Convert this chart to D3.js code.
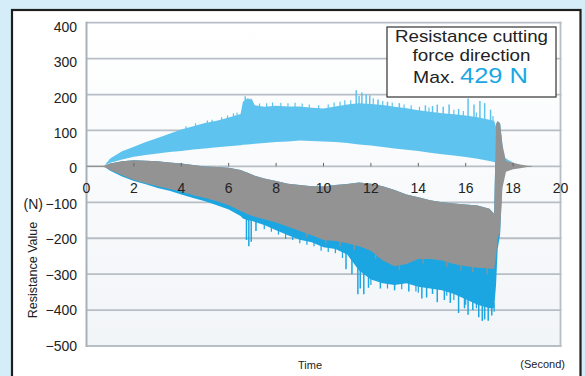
<!DOCTYPE html>
<html><head><meta charset="utf-8">
<script src="https://cdn.jsdelivr.net/npm/d3@7"></script>
<style>body{margin:0;background:#d4edf9}svg{display:block;font-family:"Liberation Sans",Arial,sans-serif}</style>
</head><body><svg id="c" width="585" height="376"></svg>
<script>
// ---- data ----
const xTicks = [0,2,4,6,8,10,12,14,16,18,20];
const yTicks = [400,300,200,100,0,-100,-200,-300,-400,-500];
const T = [0,0.7,0.8,1.0,1.5, 2,2.5,3,3.5,4, 4.5,5,5.5,6,6.5, 6.6,6.8,7,7.1,7.5, 8,8.5,9,9.5,10, 10.5,11,11.5,12,12.5, 13,13.5,14,14.5,15, 15.5,16,16.5,17,17.2, 17.28,17.35,17.45,17.55,17.7, 18.0,18.3,18.6,18.8];
const blueUpHi = [null,null,6,22,42, 55,68,79,91,103, 112,121,127,136,146, 180,190,184,170,166, 169,167,167,163,161, 167,172,176,174,171, 166,162,156,152,148, 145,142,137,130,127, 110,20,22,25,22, 10,null,null,null];
const blueUpLo = [null,null,4,10,19, 27,32,36,40,43, 47,50,53,56,59, 60,61,62,63,65, 68,69,72,71,69, 68,65,61,58,54, 50,46,43,38,34, 30,26,21,15,12, 10,8,8,8,7, 5,null,null,null];
const grayHi = [2,2,3,8,14, 17,16,14,11,8, 4,0,-2,-4,-10, -13,-18,-23,-26,-34, -41,-48,-52,-55,-56, -52,-49,-45,-48,-55, -66,-78,-86,-94,-100, -103,-106,-109,-118,-132, 118,126,120,60,15, 10,5,2,1];
const grayLo = [-2,-2,-3,-10,-25, -38,-47,-55,-63,-70, -80,-88,-97,-108,-124, -127,-133,-138,-140,-147, -156,-168,-180,-192,-205, -208,-214,-222,-235,-262, -278,-272,-258,-258,-262, -272,-278,-282,-284,-286, -250,-200,-182,-60,-15, -8,-5,-2,-1];
const blueDnLo = [null,null,-3,-12,-28, -41,-50,-60,-68,-78, -88,-97,-108,-120,-138, -145,-150,-152,-155,-163, -178,-192,-204,-211,-225, -230,-245,-290,-315,-325, -330,-325,-335,-340,-345, -355,-370,-385,-395,-395, -330,-230,-190,-40,null, null,null,null,null];
// spikes: [time, from, to]
const blueSpikesUp = [[6.7,140,195],[6.95,150,188],[11.38,150,212],[11.5,150,196],[11.62,150,206],[11.8,150,200],[11.95,150,198],[12.3,150,186],[12.7,150,180],[13.2,150,176],[14.3,140,170],[14.6,140,168],[14.8,140,172],[15.05,140,166],[15.3,140,172],[15.7,130,160],[16.1,120,189],[16.35,120,172],[16.6,120,182],[16.8,120,176],[17.05,110,158]];
const blueJagUp = [[4.2,100,112],[4.6,100,120],[5.1,110,128],[5.3,110,130],[5.7,120,137],[5.95,120,142],[6.2,130,148],[6.35,130,150],[7.3,150,175],[7.6,150,176],[7.85,150,178],[8.2,150,177],[8.5,150,176],[8.8,150,177],[9.1,150,175],[9.4,150,172],[9.8,150,170],[10.2,150,172],[10.45,150,178],[10.7,150,180],[10.9,150,184],[11.15,150,184],[12.1,150,190],[12.5,150,182],[12.9,150,178],[13.4,150,172],[13.7,150,170],[14.05,140,166],[14.45,140,164],[15.5,130,158],[15.9,130,154],[16.45,120,150],[17.15,110,140]];
const blueSpikesDn = [[6.75,-140,-205],[6.85,-140,-222],[6.95,-140,-210],[7.15,-145,-180],[10.95,-230,-286],[11.2,-240,-300],[11.45,-270,-356],[11.55,-270,-340],[11.7,-280,-356],[11.9,-290,-338],[12.4,-300,-340],[13.0,-310,-345],[13.6,-310,-348],[14.15,-320,-368],[14.35,-320,-365],[14.6,-320,-355],[14.8,-330,-378],[15.1,-330,-372],[15.35,-340,-380],[15.7,-350,-408],[15.95,-350,-395],[16.1,-360,-413],[16.3,-360,-400],[16.55,-370,-420],[16.7,-370,-430],[16.8,-370,-426],[16.95,-380,-430],[17.1,-380,-415]];
const blueJagDn = [[7.5,-150,-175],[7.8,-160,-182],[8.1,-170,-190],[8.4,-180,-202],[8.7,-190,-205],[9.0,-190,-214],[9.3,-200,-218],[9.6,-200,-222],[9.9,-210,-235],[10.2,-220,-238],[10.5,-220,-242],[10.8,-230,-255],[12.0,-300,-330],[12.7,-310,-340],[13.3,-310,-342],[13.9,-320,-348],[14.0,-320,-352],[15.2,-330,-360],[15.5,-340,-372],[16.0,-350,-385],[16.45,-370,-395],[17.2,-380,-405]];
const grayJagDn = [[9.3,-180,-198],[10.1,-200,-215],[10.7,-205,-222],[11.3,-215,-232],[12.2,-240,-258],[13.2,-270,-288],[14.2,-255,-270],[15.2,-262,-280],[15.8,-272,-290],[16.3,-278,-295],[16.9,-282,-300]];
const legendLines = ["Resistance cutting","force direction"];
const legendMaxLabel = "Max.";
const legendMaxValue = "429 N";

// ---- drawing ----
const svg = d3.select("#c");
const x = d3.scaleLinear().domain([0,20]).range([86.5,560.5]);
const y = d3.scaleLinear().domain([-500,400]).range([346,22.7]);
const yLab = d3.scaleLinear().domain([-500,400]).range([350.7,31.7]);

svg.append("rect").attr("width",585).attr("height",376).attr("fill","#d4edf9");
svg.append("rect").attr("x",12).attr("y",10).attr("width",568.5).attr("height",380)
  .attr("fill","#ffffff").attr("stroke","#1e1e1e").attr("stroke-width",2.2);

const defs = svg.append("defs");
const g = defs.append("linearGradient").attr("id","pbg").attr("x1",0).attr("y1",0).attr("x2",0).attr("y2",1);
g.append("stop").attr("offset","0%").attr("stop-color","#ffffff");
g.append("stop").attr("offset","100%").attr("stop-color","#f2f5f8");
svg.append("rect").attr("x",x(0)).attr("y",y(400)).attr("width",x(20)-x(0)).attr("height",y(-500)-y(400)).attr("fill","url(#pbg)");

// gridlines
svg.append("g").selectAll("line").data(yTicks).join("line")
  .attr("x1",x(0)).attr("x2",x(20)+1).attr("y1",d=>y(d)).attr("y2",d=>y(d))
  .attr("stroke","#b7bec5").attr("stroke-width",1.8);
svg.append("line").attr("x1",x(0)).attr("x2",x(0)).attr("y1",y(400)-1).attr("y2",y(-500)+1).attr("stroke","#a9b1b8").attr("stroke-width",2);
svg.append("line").attr("x1",x(20)).attr("x2",x(20)).attr("y1",y(400)-1).attr("y2",y(-500)+1).attr("stroke","#b7bec5").attr("stroke-width",1.8);

const pts = T.map((t,i)=>({t,uh:blueUpHi[i],ul:blueUpLo[i],gh:grayHi[i],gl:grayLo[i],bl:blueDnLo[i]}));
function spikes(data, color, w){
  svg.append("g").selectAll("line").data(data).join("line")
    .attr("x1",d=>x(d[0])).attr("x2",d=>x(d[0])).attr("y1",d=>y(d[1])).attr("y2",d=>y(d[2]))
    .attr("stroke",color).attr("stroke-width",w);
}

// blue negative band (partly hidden under gray)
svg.append("path").datum(pts.filter(d=>d.bl!==null))
  .attr("fill","#1ba6e2")
  .attr("d",d3.area().x(d=>x(d.t)).y0(d=>y(d.bl)).y1(d=>y(d.gh)));
spikes(blueSpikesDn,"#1ba6e2",1.5);
spikes(blueJagDn,"#1ba6e2",1.2);

// blue positive band
svg.append("path").datum(pts.filter(d=>d.uh!==null))
  .attr("fill","#5ec3ee")
  .attr("d",d3.area().x(d=>x(d.t)).y0(d=>y(d.ul)).y1(d=>y(d.uh)));
spikes(blueSpikesUp,"#5ec3ee",1.5);
spikes(blueJagUp,"#5ec3ee",1.2);

// gray band
svg.append("path").datum(pts)
  .attr("fill","#939394")
  .attr("d",d3.area().x(d=>x(d.t)).y0(d=>y(d.gl)).y1(d=>y(d.gh)));
spikes(grayJagDn,"#939394",1.2);

// small ticks on zero line
svg.append("g").selectAll("line").data(xTicks.slice(1,-1)).join("line")
  .attr("x1",d=>x(d)).attr("x2",d=>x(d)).attr("y1",y(0)).attr("y2",y(0)-3.5)
  .attr("stroke","#666").attr("stroke-width",1);

// x labels
svg.append("g").selectAll("text").data(xTicks).join("text")
  .attr("x",d=>x(d)).attr("y",192.5).attr("text-anchor","middle")
  .attr("font-size",14).attr("fill","#222").text(d=>d);

// y labels
svg.append("g").selectAll("text").data(yTicks).join("text")
  .attr("x",77).attr("y",d=>yLab(d)).attr("text-anchor","end")
  .attr("font-size",14).attr("fill","#222").text(d=>d<0?"\u2212"+Math.abs(d):d);
svg.append("text").attr("x",43).attr("y",yLab(-100)).attr("text-anchor","end")
  .attr("font-size",14).attr("fill","#222").text("(N)");

svg.append("text").attr("transform","translate(37,270) rotate(-90)").attr("text-anchor","middle")
  .attr("font-size",12.5).attr("fill","#222").text("Resistance Value");
svg.append("text").attr("x",310).attr("y",369).attr("text-anchor","middle")
  .attr("font-size",11).attr("fill","#222").text("Time");
svg.append("text").attr("x",565).attr("y",368).attr("text-anchor","end")
  .attr("font-size",11).attr("fill","#222").text("(Second)");

// legend box
svg.append("rect").attr("x",387).attr("y",27).attr("width",169).attr("height",70)
  .attr("fill","#fff").attr("stroke","#333").attr("stroke-width",1.2);
svg.append("text").attr("x",471.5).attr("y",42).attr("text-anchor","middle").attr("font-size",17)
  .attr("fill","#222").attr("textLength",153).attr("lengthAdjust","spacingAndGlyphs").text(legendLines[0]);
svg.append("text").attr("x",471.5).attr("y",61).attr("text-anchor","middle").attr("font-size",17)
  .attr("fill","#222").attr("textLength",118).attr("lengthAdjust","spacingAndGlyphs").text(legendLines[1]);
svg.append("text").attr("x",413).attr("y",83).attr("font-size",17).attr("fill","#222")
  .attr("textLength",42).attr("lengthAdjust","spacingAndGlyphs").text(legendMaxLabel);
svg.append("text").attr("x",460).attr("y",83).attr("font-size",22).attr("fill","#1aa7e3")
  .attr("textLength",68).attr("lengthAdjust","spacingAndGlyphs").text(legendMaxValue);
</script></body></html>
